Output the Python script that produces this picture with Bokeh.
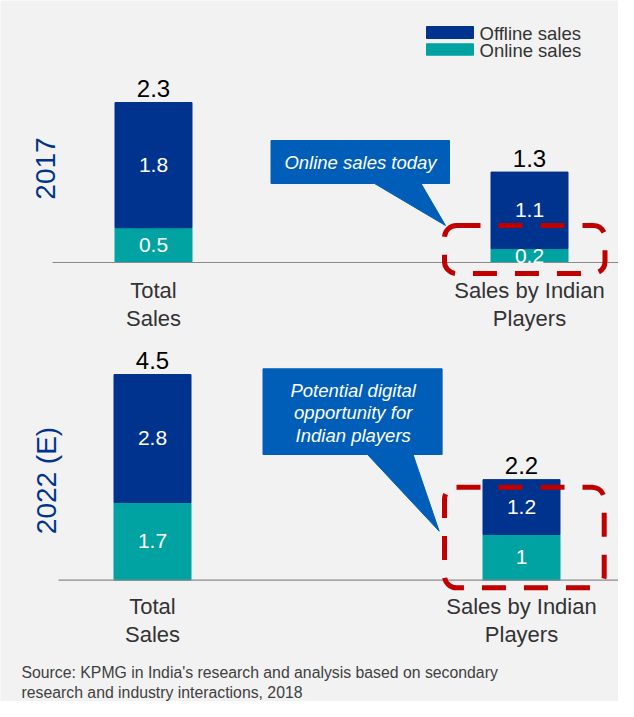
import math
from bokeh.plotting import figure
from bokeh.models import Range1d, ColumnDataSource, BoxAnnotation
from bokeh.embed import file_html
from bokeh.resources import INLINE
from bokeh.core.properties import value

# ---------------- data ----------------
categories = ["Total Sales", "Sales by Indian Players"]
category_lines = [["Total", "Sales"], ["Sales by Indian", "Players"]]
panel_years = ["2017", "2022 (E)"]
series_names = ["Offline sales", "Online sales"]
online_2017 = [0.5, 0.2]
offline_2017 = [1.8, 1.1]
online_2022 = [1.7, 1.0]
offline_2022 = [2.8, 1.2]
callout_2017 = ["Online sales today"]
callout_2022 = ["Potential digital", "opportunity for", "Indian players"]
source_lines = ["Source: KPMG in India's research and analysis based on secondary",
                "research and industry interactions, 2018"]

# ---------------- style ----------------
NAVY = "#00338D"
TEAL = "#00A3A1"
CALLOUT = "#005EB8"
RED = "#C00000"
BG = "#F2F2F2"
TXT = "#333333"
FONT = "Liberation Sans"

W, H = 618, 701
X0, Y0 = 6, 6  # reference coordinate of the frame's top-left corner

p = figure(width=W, height=H, output_backend="svg", toolbar_location=None,
           x_axis_type=None, y_axis_type=None, min_border=0,
           x_range=Range1d(X0, X0 + W), y_range=Range1d(Y0 + H, Y0))
p.background_fill_color = BG
p.border_fill_color = BG
p.outline_line_color = None
p.xgrid.visible = False
p.ygrid.visible = False


def lin_range(v_a, px_a, v_b, px_b, px_start, px_end):
    s = (px_b - px_a) / (v_b - v_a)
    return Range1d(start=v_a + (px_start - px_a) / s, end=v_a + (px_end - px_a) / s), s


def fmt(v):
    return f"{round(v, 1):g}"


panels = [
    dict(year=panel_years[0], online=online_2017, offline=offline_2017,
         xr="x17", yr="y17", base=268, top=108, cx=(159, 535),
         line_y=(296, 324), year_xy=(51, 174), base_x0=58),
    dict(year=panel_years[1], online=online_2022, offline=offline_2022,
         xr="x22", yr="y22", base=585.7, top=380, cx=(158, 527),
         line_y=(612, 640), year_xy=(52, 486), base_x0=64),
]

p.extra_x_ranges = {}
p.extra_y_ranges = {}
BAR_PX = 77

for pn in panels:
    totals = [a + b for a, b in zip(pn["online"], pn["offline"])]
    xr, sx = lin_range(0, pn["cx"][0], 1, pn["cx"][1], X0, X0 + W)
    yr, sy = lin_range(0, pn["base"], max(totals), pn["top"], Y0 + H, Y0)
    p.extra_x_ranges[pn["xr"]] = xr
    p.extra_y_ranges[pn["yr"]] = yr
    idx = list(range(len(categories)))
    src = ColumnDataSource(dict(idx=idx, cat=categories, online=pn["online"],
                                offline=pn["offline"], total=totals))
    p.vbar_stack(["online", "offline"], x="idx", width=BAR_PX / abs(sx),
                 color=[TEAL, NAVY], source=src,
                 x_range_name=pn["xr"], y_range_name=pn["yr"])
    # baseline
    p.segment(x0=[pn["base_x0"]], x1=[X0 + W], y0=[0], y1=[0],
              line_color="#8A8A8A", line_width=1.2, y_range_name=pn["yr"])
    # segment labels
    seg_x = idx + idx
    seg_y = [o / 2 for o in pn["online"]] + [o + f / 2 for o, f in zip(pn["online"], pn["offline"])]
    seg_t = [fmt(v) for v in pn["online"]] + [fmt(v) for v in pn["offline"]]
    p.text(x=seg_x, y=seg_y, text=seg_t, text_color="white",
           text_font=value(FONT), text_font_size="21px",
           text_align="center", text_baseline="middle",
           x_range_name=pn["xr"], y_range_name=pn["yr"])
    # total labels, 14px above the bar top
    p.text(x=idx, y=[t + 14 / abs(sy) for t in totals], text=[fmt(t) for t in totals],
           text_color="black", text_font=value(FONT), text_font_size="24px",
           text_align="center", text_baseline="middle",
           x_range_name=pn["xr"], y_range_name=pn["yr"])
    # category labels
    for li in range(2):
        p.text(x=idx, y=[pn["line_y"][li]] * len(idx),
               text=[lines[li] for lines in category_lines], text_color=TXT,
               text_font=value(FONT), text_font_size="22px",
               text_align="center", text_baseline="middle",
               x_range_name=pn["xr"])
    # year label
    p.text(x=[pn["year_xy"][0]], y=[pn["year_xy"][1]], text=[pn["year"]],
           angle=math.pi / 2, text_color=NAVY, text_font=value(FONT),
           text_font_size="28px", text_align="center", text_baseline="middle")

# callouts
p.patch(x=[276.5, 455, 455, 426.5, 451, 380, 276.5],
        y=[146, 146, 189, 189, 231, 189, 189],
        fill_color=CALLOUT, line_color=CALLOUT)
p.text(x=[366], y=[168], text=callout_2017, text_color="white",
       text_font=value(FONT), text_font_style="italic", text_font_size="18.5px",
       text_align="center", text_baseline="middle")
p.patch(x=[268.5, 447.6, 447.6, 418.5, 444.7, 373, 268.5],
        y=[374.3, 374.3, 460, 460, 536.7, 460, 460],
        fill_color=CALLOUT, line_color=CALLOUT)
p.text(x=[358.7] * 3, y=[396, 418.3, 440.6], text=callout_2022, text_color="white",
       text_font=value(FONT), text_font_style="italic", text_font_size="18.5px",
       text_align="center", text_baseline="middle")

# dashed highlight boxes
for l, r, t, b in [(450, 610.5, 231, 279), (450, 609.7, 492.7, 593.3)]:
    p.add_layout(BoxAnnotation(left=l, right=r, top=t, bottom=b,
                               fill_color=None, fill_alpha=0,
                               line_color=RED, line_alpha=1.0, line_width=5,
                               line_dash="24 18", border_radius=12))

# legend
p.quad(left=[432, 432], right=[479, 479], top=[32, 49.3], bottom=[44, 60.7],
       color=[NAVY, TEAL])
p.text(x=[485, 485], y=[38.5, 55.5], text=series_names, text_color=TXT,
       text_font=value(FONT), text_font_size="18.5px",
       text_align="left", text_baseline="middle")

# source
p.text(x=[27, 27], y=[678, 698], text=source_lines, text_color="#404040",
       text_font=value(FONT), text_font_size="15.8px",
       text_align="left", text_baseline="middle")

open("out.html", "w").write(file_html(p, INLINE))
